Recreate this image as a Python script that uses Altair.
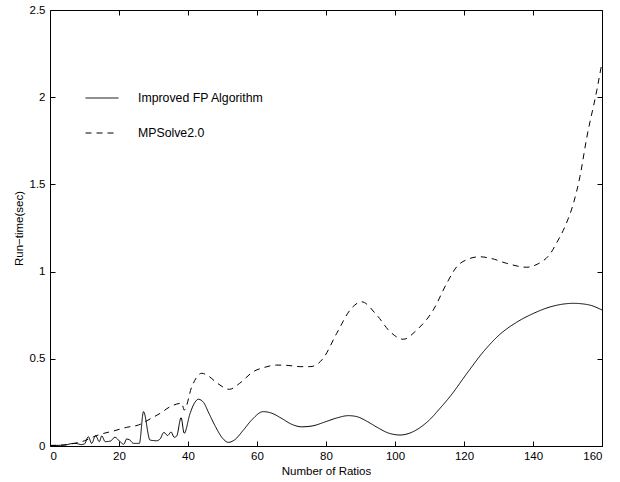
import altair as alt
import pandas as pd

# Improved FP Algorithm (solid)
fp_x = [0, 3, 5, 6, 7, 8, 9, 10, 11.1, 12.1, 13.2, 14.3, 15, 16, 17.5, 18.8, 20.3, 21.4, 22.2, 23.1,
        24.2, 25.9, 27.1, 29, 30.9, 31.9, 33, 34.1, 35.1, 36, 36.7, 38, 38.9, 40.6, 42, 43, 44.5, 46,
        48, 50, 51.7, 53.5, 56, 58.5, 61.8, 64, 67, 70, 72.9, 76, 80, 83, 86.5, 89, 92, 95, 98, 101.5,
        104, 107, 110, 113, 116, 120.8, 125.6, 130.4, 135.3, 140.1, 144.9, 151.7, 156, 160]
fp_y = [0.003, 0.004, 0.008, 0.013, 0.015, 0.013, 0.008, 0.012, 0.053, 0.015, 0.06, 0.025, 0.058, 0.025,
        0.028, 0.05, 0.025, 0.01, 0.04, 0.035, 0.015, 0.015, 0.197, 0.034, 0.03, 0.04, 0.078, 0.06, 0.08,
        0.05, 0.056, 0.162, 0.073, 0.187, 0.25, 0.268, 0.25, 0.19, 0.11, 0.045, 0.021, 0.035, 0.09, 0.15,
        0.197, 0.19, 0.16, 0.125, 0.11, 0.115, 0.14, 0.16, 0.174, 0.168, 0.14, 0.105, 0.075, 0.063,
        0.072, 0.102, 0.15, 0.215, 0.285, 0.415, 0.54, 0.64, 0.71, 0.76, 0.797, 0.818, 0.81, 0.78]

# MPSolve2.0 (dashed)
mp_x = [0, 4, 7, 10, 12.6, 15.5, 18.4, 22.2, 25.6, 29, 31.9, 34.8, 38.2, 38.9, 41.1, 44, 46, 48.5, 52,
        55, 58.9, 62, 65.7, 69, 72.5, 75.4, 77.8, 79.2, 83.1, 87.4, 90.3, 94.7, 98.6, 102.4, 106.3,
        111.1, 115, 117.9, 121, 124.5, 128, 132.4, 138.2, 141.5, 144.9, 147, 149.3, 151.7, 153.6,
        155.6, 158.5, 160]
mp_y = [0.003, 0.006, 0.015, 0.03, 0.053, 0.072, 0.086, 0.107, 0.12, 0.155, 0.187, 0.225, 0.245, 0.206,
        0.34, 0.417, 0.4, 0.36, 0.325, 0.36, 0.426, 0.45, 0.464, 0.462, 0.455, 0.455, 0.474, 0.503,
        0.646, 0.79, 0.827, 0.751, 0.655, 0.612, 0.665, 0.78, 0.933, 1.028, 1.07, 1.085, 1.075, 1.047,
        1.025, 1.045, 1.1, 1.17, 1.26, 1.39, 1.544, 1.77, 2.04, 2.2]

series = ["Improved FP Algorithm", "MPSolve2.0"]
x_ticks = [0, 20, 40, 60, 80, 100, 120, 140, 160]
y_ticks = [0, 0.5, 1, 1.5, 2, 2.5]

df = pd.concat([
    pd.DataFrame({"x": fp_x, "y": fp_y, "s": series[0], "o": range(len(fp_x))}),
    pd.DataFrame({"x": mp_x, "y": mp_y, "s": series[1], "o": range(len(mp_x))}),
])

FONT = "Liberation Sans"

xs = alt.Scale(domain=[0, 160], nice=False, zero=False)
ys = alt.Scale(domain=[0, 2.5], nice=False, zero=False)

main = alt.Chart(df).mark_line(color="black", strokeWidth=1, interpolate="monotone").encode(
    x=alt.X("x:Q", scale=xs, title="Number of Ratios",
            axis=alt.Axis(orient="bottom", values=x_ticks, grid=False, domain=False, offset=-5,
                          tickSize=5, tickColor="black", labelPadding=4, titlePadding=4,
                          labelFontSize=11.5, titleFontSize=11.5, labelFont=FONT, titleFont=FONT,
                          labelColor="black", titleColor="black", titleFontWeight="normal")),
    y=alt.Y("y:Q", scale=ys, title="Run−time(sec)",
            axis=alt.Axis(orient="left", values=y_ticks, format="~g", grid=False, domain=False,
                          offset=-5, tickSize=5, tickColor="black", labelPadding=5, titlePadding=5,
                          labelFontSize=11.5, titleFontSize=11.5, labelFont=FONT, titleFont=FONT,
                          labelColor="black", titleColor="black", titleFontWeight="normal")),
    strokeDash=alt.StrokeDash("s:N", scale=alt.Scale(domain=series, range=[[1, 0], [6, 5]]),
                              legend=alt.Legend(orient="none", legendX=35, legendY=71, title=None,
                                                symbolType="stroke", symbolSize=1089,
                                                symbolStrokeWidth=1, symbolStrokeColor="black",
                                                labelOffset=19, rowPadding=11, padding=0,
                                                labelFontSize=12.3, labelFont=FONT, labelColor="black")),
    order="o:Q",
)

mirror = alt.Chart(df).mark_line(opacity=0).encode(
    x=alt.X("x:Q", scale=xs, title=None,
            axis=alt.Axis(orient="top", values=x_ticks, grid=False, domain=False, labels=False,
                          offset=-5, tickSize=5, tickColor="black")),
    y=alt.Y("y:Q", scale=ys, title=None,
            axis=alt.Axis(orient="right", values=y_ticks, grid=False, domain=False, labels=False,
                          offset=-5, tickSize=5, tickColor="black")),
    detail="s:N",
    order="o:Q",
)

chart = alt.layer(main, mirror).resolve_axis(x="independent", y="independent").properties(
    width=552, height=436,
    autosize=alt.AutoSizeParams(type="none"),
    padding={"left": 50, "top": 10, "right": 18, "bottom": 36},
    background="white",
).configure_view(stroke="black", strokeWidth=1)

chart.save("out.html", embed_options={"renderer": "svg", "actions": False})
